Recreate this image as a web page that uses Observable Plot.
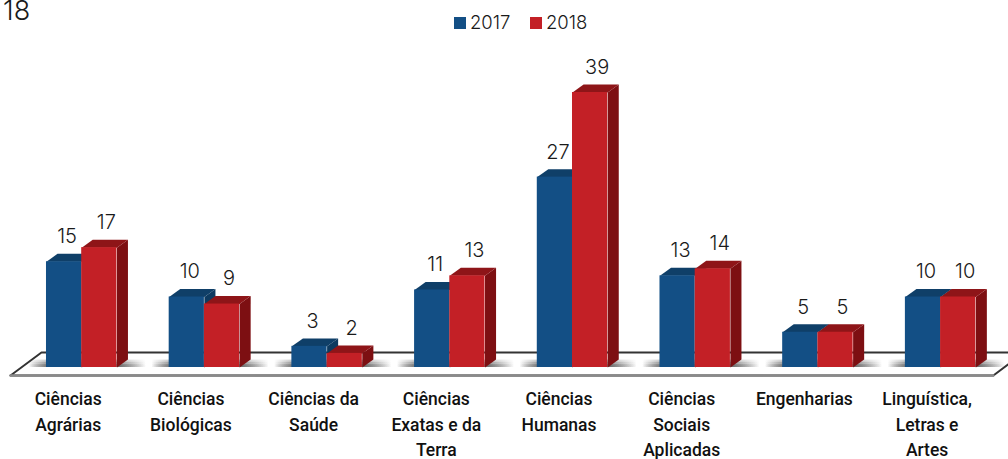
<!DOCTYPE html>
<html lang="pt">
<head>
<meta charset="utf-8">
<script src="https://cdn.jsdelivr.net/npm/d3@7"></script>
<script src="https://cdn.jsdelivr.net/npm/@observablehq/plot@0.6"></script>
<style>
  html, body { margin: 0; padding: 0; background: #fff; overflow: hidden; }
  #page { position: relative; width: 1008px; height: 459px; overflow: hidden; }
  #page svg { display: block; }
  .thin { font-family: Inter, sans-serif; font-weight: 300; color: #1a1a1a; position: absolute; line-height: 1; }
  .swatch { position: absolute; width: 12px; height: 12px; }
</style>
</head>
<body>
<div id="page">
  <div class="thin" style="left:3px;top:0;font-size:27px;line-height:0.8;">18</div>
  <span class="swatch" style="left:454px;top:17px;background:#134F85"></span>
  <div class="thin" style="left:470px;top:13px;font-size:18.5px;">2017</div>
  <span class="swatch" style="left:530px;top:17px;background:#C32026"></span>
  <div class="thin" style="left:546px;top:13px;font-size:18.5px;">2018</div>
</div>
<script>
const categories = [
  "Ciências\nAgrárias", "Ciências\nBiológicas", "Ciências da\nSaúde",
  "Ciências\nExatas e da\nTerra", "Ciências\nHumanas", "Ciências\nSociais\nAplicadas",
  "Engenharias", "Linguística,\nLetras e\nArtes"
];
const values2017 = [15, 10, 3, 11, 27, 13, 5, 10];
const values2018 = [17, 9, 2, 13, 39, 14, 5, 10];

const barW = 0.287, depthX = 0.09, depthY = 1.13;
const blue = {front: "#134F85", top: "#0F3F68", side: "#0D3A60"};
const red  = {front: "#C32026", top: "#8E1518", side: "#7D0F12"};

function bars(values, offset) {
  return values.map((v, i) => ({x1: i + 0.5 + offset, x2: i + 0.5 + offset + barW, v}));
}
function faces(rows, kind) {
  return rows.flatMap((b, i) => {
    const pts = kind === "top"
      ? [[b.x1, b.v], [b.x2, b.v], [b.x2 + depthX, b.v + depthY], [b.x1 + depthX, b.v + depthY]]
      : [[b.x2, 0], [b.x2 + depthX, depthY], [b.x2 + depthX, b.v + depthY], [b.x2, b.v]];
    return pts.map(([x, y]) => ({x, y, id: i}));
  });
}
const b17 = bars(values2017, -barW), b18 = bars(values2018, 0);
const floor = [
  {x: -0.08, y: -1.13}, {x: 7.93, y: -1.13}, {x: 8.18, y: 2.13}, {x: 0.172, y: 2.13}, {x: -0.08, y: -1.13}
];
const shadows = categories.map((c, i) => ({x1: i + 0.5 - barW - 0.14, x2: i + 0.5 + barW + 0.24}));

const face = (rows, kind, fill) => Plot.line(faces(rows, kind), {x: "x", y: "y", z: "id", fill, stroke: "none"});
const front = (rows, fill) => Plot.rect(rows, {x1: "x1", x2: "x2", y1: 0, y2: "v", fill, inset: 0});
const labels = (rows, dx) => Plot.text(rows, {
  x: d => (d.x1 + d.x2) / 2, y: "v", text: d => String(d.v), dx, dy: -25,
  fontFamily: "Inter, sans-serif", fontWeight: 300, fontSize: 20, fill: "#1a1a1a"
});
const shade = (top, opacity) => Plot.rect(shadows, {x1: "x1", x2: "x2", y1: 0, y2: top, fill: "url(#shade)", fillOpacity: opacity});

const chart = Plot.plot({
  width: 1008, height: 459,
  marginTop: 0, marginBottom: 0, marginLeft: 0, marginRight: 0,
  x: {type: "linear", domain: [0, 8], range: [19.85, 1001.45], axis: null},
  y: {type: "linear", domain: [0, 39], range: [367, 92], axis: null},
  style: {background: "transparent"},
  marks: [
    () => {
      const ns = "http://www.w3.org/2000/svg";
      const defs = document.createElementNS(ns, "defs");
      defs.innerHTML = `<linearGradient id="shade" x1="0" x2="1" y1="0" y2="0">
        <stop offset="0" stop-color="#555" stop-opacity="0"/>
        <stop offset="0.15" stop-color="#555" stop-opacity="0.9"/>
        <stop offset="0.76" stop-color="#444" stop-opacity="0.95"/>
        <stop offset="1" stop-color="#555" stop-opacity="0"/>
      </linearGradient>`;
      return defs;
    },
    Plot.line(floor, {x: "x", y: "y", fill: "#fff", stroke: "#333", strokeWidth: 2}),
    Plot.line(floor.slice(0, 2), {x: "x", y: "y", stroke: "#8a8a8a", strokeWidth: 2.5}),
    shade(1.05, 0.35), shade(0.75, 0.4), shade(0.4, 0.5),
    face(b17, "side", blue.side), face(b17, "top", blue.top), front(b17, blue.front),
    face(b18, "side", red.side), face(b18, "top", red.top), front(b18, red.front),
    labels(b17, 3), labels(b18, 7),
    Plot.text(categories, {
      x: (d, i) => i + 0.5, y: () => -2.85, text: d => d, dx: -13.5,
      lineAnchor: "top", lineHeight: 1.44,
      fontFamily: "Roboto, sans-serif", fontWeight: 500, fontSize: 17.5, fill: "#111"
    })
  ]
});
document.getElementById("page").prepend(chart);
</script>
</body>
</html>
